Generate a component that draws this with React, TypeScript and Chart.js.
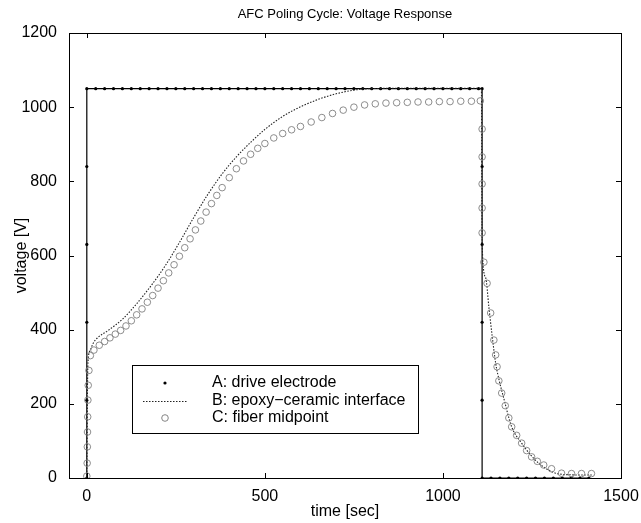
import React, { useEffect, useRef } from "react";
import { Chart, registerables } from "chart.js";

Chart.register(...registerables);

const FONT = "'Liberation Sans', Arial, Helvetica, sans-serif";

const titleText = "AFC Poling Cycle: Voltage Response";
const xLabel = "time [sec]";
const yLabel = "voltage [V]";
const xTicks = [0, 500, 1000, 1500];
const yTicks = [0, 200, 400, 600, 800, 1000, 1200];
const legendLabels = ["A: drive electrode", "B: epoxy\u2212ceramic interface", "C: fiber midpoint"];

// A: drive electrode
const aTime = [
  0, 0, 0, 0, 0, 0,
  25, 50, 75, 100, 125, 150, 175, 200, 225, 250, 275, 300, 325, 350, 375, 400, 425, 450, 475, 500,
  525, 550, 575, 600, 625, 650, 675, 700, 725, 750, 775, 800, 825, 850, 875, 900, 925, 950, 975, 1000,
  1025, 1050, 1075, 1100,
  1110, 1110, 1110, 1110, 1110, 1110,
  1135, 1160, 1185, 1210, 1235, 1260, 1285, 1310, 1335, 1360, 1385, 1410,
];
const aVolt = [
  0, 210, 420, 630, 840, 1050,
  1050, 1050, 1050, 1050, 1050, 1050, 1050, 1050, 1050, 1050, 1050, 1050, 1050, 1050, 1050, 1050, 1050, 1050, 1050, 1050,
  1050, 1050, 1050, 1050, 1050, 1050, 1050, 1050, 1050, 1050, 1050, 1050, 1050, 1050, 1050, 1050, 1050, 1050, 1050, 1050,
  1050, 1050, 1050, 1050,
  1050, 840, 630, 420, 210, 0,
  0, 0, 0, 0, 0, 0, 0, 0, 0, 0, 0, 0,
];

// B: epoxy-ceramic interface
const bTime = [
  0, 1, 2, 4, 10, 17, 30, 60, 100, 140, 180, 220, 260, 300, 340, 380, 420, 460, 500, 550, 600, 650, 700,
  750, 800, 900, 1000, 1108, 1110, 1120, 1129, 1138, 1148, 1160, 1170, 1193, 1221, 1250, 1269, 1290, 1316,
  1350, 1409, 1420,
];
const bVolt = [
  0, 120, 250, 320, 345, 362, 378, 398, 428, 470, 518, 572, 635, 702, 765, 820, 866, 905, 940, 975, 1001, 1021, 1036,
  1046, 1050, 1051, 1051, 1051, 633, 540, 461, 385, 310, 255, 218, 138, 94, 58, 40, 25, 13,
  9, 8, 8,
];

// C: fiber midpoint
const cTime = [
  0, 1, 1.5, 2, 2.5, 3, 4, 6, 10, 20, 35, 50, 65, 80, 95, 110, 125, 140, 155, 170, 185, 200, 215, 230, 245,
  260, 275, 290, 305, 320, 335, 350, 365, 380, 400, 420, 440, 460, 480, 500, 525, 550, 575, 600, 630, 660,
  690, 720, 750, 780, 810, 840, 870, 900, 930, 960, 990, 1020, 1050, 1080, 1105,
  1110, 1110, 1110, 1110, 1110,
  1115, 1124, 1134, 1143, 1148, 1152, 1157, 1165, 1175, 1185, 1193, 1207, 1221, 1235, 1249, 1265, 1283,
  1305, 1333, 1361, 1389, 1417,
];
const cVolt = [
  5, 40, 84, 124, 165, 210, 250, 290, 330, 345, 358, 368, 378, 388, 398, 410, 424, 440, 456, 474, 492, 512, 532, 553, 575,
  598, 621, 645, 669, 693, 717, 740, 762, 783, 810, 834, 855, 873, 889, 902, 917, 929, 939, 948, 960, 972,
  983, 992, 1000, 1006, 1009, 1011, 1012, 1013, 1014, 1014, 1015, 1015, 1016, 1016, 1017,
  941, 866, 793, 728, 661,
  582, 525, 445, 372, 332, 300, 262, 229, 195, 162, 138, 115, 94, 74, 57, 45, 35,
  25, 13, 12, 12, 12,
];

const pts = (t: number[], v: number[]) => t.map((x, i) => ({ x, y: v[i] }));

const framePlugin = {
  id: "frameAndLegend",
  afterDatasetsDraw(chart: any) {
    const { ctx, chartArea, scales } = chart;
    const { left, right, top, bottom } = chartArea;
    const xs = scales.x;
    const ys = scales.y;
    ctx.save();
    ctx.strokeStyle = "#000";
    ctx.lineWidth = 1;
    ctx.setLineDash([]);
    ctx.strokeRect(Math.round(left) + 0.5, Math.round(top) + 0.5, Math.round(right - left), Math.round(bottom - top));
    const tl = 5;
    ctx.beginPath();
    xTicks.forEach((v) => {
      const px = Math.round(xs.getPixelForValue(v)) + 0.5;
      ctx.moveTo(px, bottom);
      ctx.lineTo(px, bottom - tl);
      ctx.moveTo(px, top);
      ctx.lineTo(px, top + tl);
    });
    yTicks.forEach((v) => {
      const py = Math.round(ys.getPixelForValue(v)) + 0.5;
      ctx.moveTo(left, py);
      ctx.lineTo(left + tl, py);
      ctx.moveTo(right, py);
      ctx.lineTo(right - tl, py);
    });
    ctx.stroke();

    // legend box
    const bx = 132, by = 365, bw = 286, bh = 68;
    ctx.fillStyle = "#fff";
    ctx.fillRect(bx, by, bw, bh);
    ctx.strokeRect(bx + 0.5, by + 0.5, bw, bh);
    const rows = [383, 401, 418];
    const sx = 165;
    ctx.fillStyle = "#000";
    ctx.beginPath();
    ctx.arc(sx, rows[0], 1.6, 0, Math.PI * 2);
    ctx.fill();
    ctx.strokeStyle = "#222";
    ctx.lineWidth = 1;
    ctx.setLineDash([1.5, 1.5]);
    ctx.beginPath();
    ctx.moveTo(143, rows[1] + 0.5);
    ctx.lineTo(187, rows[1] + 0.5);
    ctx.stroke();
    ctx.setLineDash([]);
    ctx.strokeStyle = "#777";
    ctx.lineWidth = 0.9;
    ctx.beginPath();
    ctx.arc(sx, rows[2], 3.3, 0, Math.PI * 2);
    ctx.stroke();
    ctx.fillStyle = "#000";
    ctx.font = `16px ${FONT}`;
    ctx.textBaseline = "middle";
    ctx.textAlign = "left";
    legendLabels.forEach((t, i) => ctx.fillText(t, 212, rows[i]));
    ctx.restore();
  },
};

export default function App() {
  const ref = useRef<HTMLCanvasElement | null>(null);
  useEffect(() => {
    if (!ref.current) return;
    const chart = new Chart(ref.current, {
      type: "scatter",
      data: {
        datasets: [
          {
            label: legendLabels[0],
            data: pts(aTime, aVolt),
            showLine: true,
            borderColor: "#000",
            borderWidth: 1.2,
            pointRadius: 1.6,
            pointBackgroundColor: "#000",
            pointBorderWidth: 0,
            order: 3,
          },
          {
            label: legendLabels[1],
            data: pts(bTime, bVolt),
            showLine: true,
            borderColor: "#222",
            borderWidth: 1.1,
            borderDash: [1.5, 1.5],
            pointRadius: 0,
            cubicInterpolationMode: "monotone",
            order: 2,
          },
          {
            label: legendLabels[2],
            data: pts(cTime, cVolt),
            showLine: false,
            pointStyle: "circle",
            pointRadius: 3.3,
            borderColor: "#808080",
            backgroundColor: "rgba(0,0,0,0)",
            pointBorderWidth: 0.9,
            order: 1,
          },
        ] as any,
      },
      options: {
        animation: false,
        responsive: false,
        devicePixelRatio: 1,
        layout: { padding: { left: 0, right: 20, top: 0, bottom: 0 } },
        plugins: {
          legend: { display: false },
          tooltip: { enabled: false },
          title: {
            display: true,
            fullSize: false,
            text: titleText,
            color: "#000",
            font: { family: FONT, size: 13, weight: "normal" },
            padding: { top: 6.2, bottom: 11.2 },
          },
        },
        scales: {
          x: {
            type: "linear",
            min: -50,
            max: 1500,
            afterBuildTicks: (s: any) => {
              s.ticks = xTicks.map((v) => ({ value: v }));
            },
            afterFit: (s: any) => {
              s.height = 45;
            },
            grid: { display: false },
            border: { display: false },
            ticks: {
              color: "#000",
              font: { family: FONT, size: 16 },
              padding: 1,
              maxRotation: 0,
              callback: (v: any) => String(v),
            },
            title: {
              display: true,
              text: xLabel,
              color: "#000",
              font: { family: FONT, size: 16 },
              padding: { top: 0, bottom: 1.4 },
            },
          },
          y: {
            type: "linear",
            min: 0,
            max: 1200,
            afterBuildTicks: (s: any) => {
              s.ticks = yTicks.map((v) => ({ value: v }));
            },
            afterFit: (s: any) => {
              s.width = 69;
            },
            grid: { display: false },
            border: { display: false },
            ticks: {
              color: "#000",
              font: { family: FONT, size: 16 },
              padding: 4,
              callback: (v: any) => String(v),
            },
            title: {
              display: true,
              text: yLabel,
              color: "#000",
              font: { family: FONT, size: 16 },
              padding: { top: 12.4, bottom: 0 },
            },
          },
        },
      } as any,
      plugins: [framePlugin],
    });
    return () => chart.destroy();
  }, []);
  return (
    <div style={{ position: "fixed", left: 0, top: 0, width: 641, height: 523, background: "#fff" }}>
      <canvas ref={ref} width={641} height={523} style={{ width: 641, height: 523 }} />
    </div>
  );
}
